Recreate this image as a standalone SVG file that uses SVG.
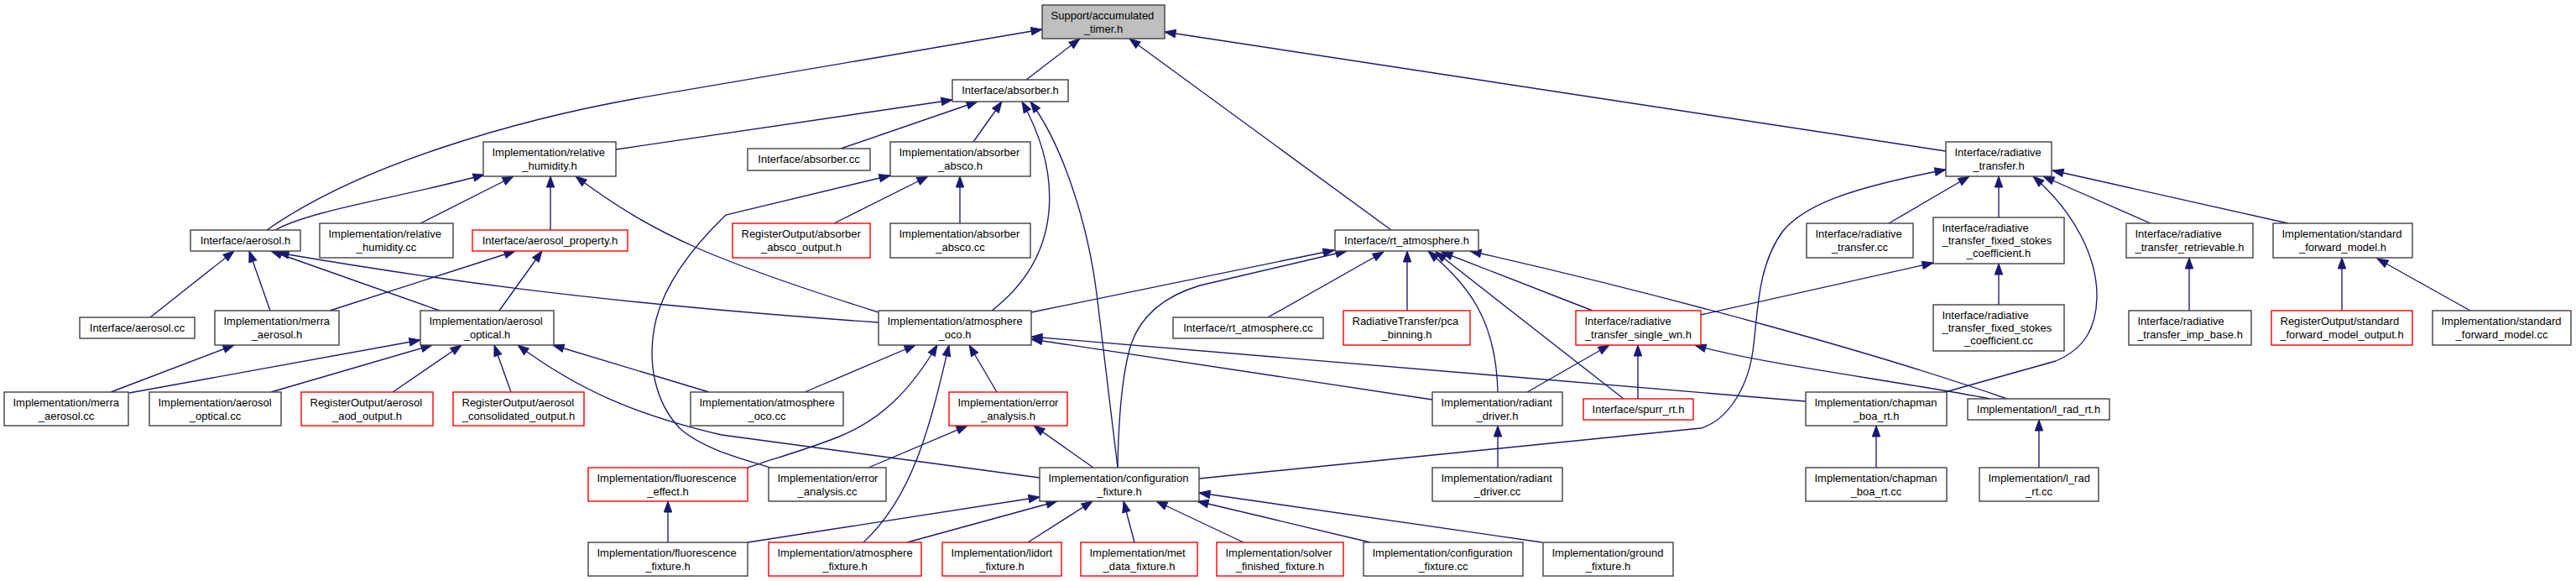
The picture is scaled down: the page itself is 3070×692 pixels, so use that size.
<svg xmlns="http://www.w3.org/2000/svg" width="3070" height="692" viewBox="0 0 3070 692">
<style>
.n rect{fill:#fff;stroke:#404040;stroke-width:1.4}
.n.r rect{stroke:#ff0000}
.n.root rect{fill:#bfbfbf}
text{font-family:"Liberation Sans",Arial,Helvetica,sans-serif;font-size:13px;fill:#000}
.m{text-anchor:middle}
#edges path{fill:none;stroke:#191970;stroke-width:1.35;marker-start:url(#ah)}
</style>
<defs>
<marker id="ah" markerUnits="userSpaceOnUse" orient="auto-start-reverse" markerWidth="14" markerHeight="10" refX="0" refY="0" overflow="visible">
<path d="M0,0 L-13,-4.7 L-13,4.7 Z" fill="#191970" stroke="#191970" stroke-width="1"/>
</marker>
</defs>
<rect x="0" y="0" width="3070" height="692" fill="#fff"/>
<g id="edges">
<path d="M1242,35 L760,117 C620,142 430,195 318,274"/>
<path d="M1287,46 L1223,95"/>
<path d="M1346,46 L1658,274"/>
<path d="M1388,38 L2319,180"/>
<path d="M1135,119 L734,178"/>
<path d="M1165,121 L1002,177"/>
<path d="M1194,121 L1160,169"/>
<path d="M1218,121 C1262,200 1272,300 1182,370"/>
<path d="M1228,121 C1268,175 1297,270 1307,350 L1332,557"/>
<path d="M577,208 C480,235 370,250 328,274"/>
<path d="M612,210 L501,266"/>
<path d="M656,210 L656,274"/>
<path d="M686,210 C780,280 850,310 1047,372"/>
<path d="M1106,210 L994,266"/>
<path d="M1144,210 L1144,266"/>
<path d="M1061,209 L865,256 C835,285 795,330 782,380 C770,430 780,480 812,512 C840,535 880,545 918,557"/>
<path d="M279,299 L179,378"/>
<path d="M297,299 L322,370"/>
<path d="M323,299 L524,370"/>
<path d="M331,301 C500,330 700,360 1047,384"/>
<path d="M614,299 L393,370"/>
<path d="M646,299 L595,370"/>
<path d="M279,411 L132,467"/>
<path d="M501,405 L154,468"/>
<path d="M515,411 L323,467"/>
<path d="M550,411 L468,467"/>
<path d="M589,411 L609,467"/>
<path d="M659,411 L845,467"/>
<path d="M617,411 C690,465 760,495 860,518 L1239,569"/>
<path d="M1590,298 L1229,372"/>
<path d="M1605,299 L1430,340 C1390,352 1360,375 1348,410 C1337,445 1333,500 1332,557"/>
<path d="M1649,300 L1511,378"/>
<path d="M1677,299 L1677,370"/>
<path d="M1702,299 C1750,340 1783,380 1785,467"/>
<path d="M1711,300 L1935,475"/>
<path d="M1718,300 L1898,370"/>
<path d="M1752,299 C2000,355 2250,425 2392,475"/>
<path d="M1091,411 L959,467"/>
<path d="M1117,411 C1085,465 1050,500 1000,520 C955,538 915,548 891,557"/>
<path d="M1131,411 C1110,500 1090,590 1029,646"/>
<path d="M1155,411 L1188,467"/>
<path d="M1229,404 L1707,476"/>
<path d="M1229,401 L2152,478"/>
<path d="M1153,507 L1035,557"/>
<path d="M1232,507 L1303,557"/>
<path d="M1239,592 L891,646"/>
<path d="M1260,597 L1081,646"/>
<path d="M1302,597 L1225,646"/>
<path d="M1339,597 L1352,646"/>
<path d="M1378,597 L1482,646"/>
<path d="M1427,597 L1633,646"/>
<path d="M1429,587 L1838,646"/>
<path d="M2319,202 C2200,225 2150,245 2125,275 C2095,315 2095,370 2090,410 C2085,460 2060,500 2027,510 L1429,570"/>
<path d="M796,597 L796,646"/>
<path d="M1918,411 L1820,467"/>
<path d="M1952,411 L1952,475"/>
<path d="M2020,411 C2090,432 2250,452 2372,475"/>
<path d="M2304,313 L2027,375"/>
<path d="M2347,210 L2251,266"/>
<path d="M2382,210 L2382,259"/>
<path d="M2423,210 C2475,255 2500,310 2499,355 C2498,390 2485,415 2450,430 L2318,467"/>
<path d="M2435,210 L2563,266"/>
<path d="M2446,203 L2727,266"/>
<path d="M2382,314 L2382,363"/>
<path d="M2609,307 L2609,370"/>
<path d="M2791,307 L2791,370"/>
<path d="M2833,308 L2944,370"/>
<path d="M1785,507 L1785,557"/>
<path d="M2236,507 L2236,557"/>
<path d="M2430,500 L2430,557"/>
</g>
<g id="n_timer" class="n root"><rect x="1242" y="6" width="146" height="40"/><text x="1252.5" y="23">Support/accumulated</text><text class="m" x="1315" y="38.5">_timer.h</text></g>
<g id="n_absorber_h" class="n"><rect x="1135" y="95" width="138" height="26"/><text class="m" x="1204" y="112">Interface/absorber.h</text></g>
<g id="n_rel_hum_h" class="n"><rect x="576" y="169" width="158" height="41"/><text x="586.5" y="186">Implementation/relative</text><text class="m" x="655" y="201.5">_humidity.h</text></g>
<g id="n_absorber_cc" class="n"><rect x="891" y="177" width="146" height="26"/><text class="m" x="964" y="194">Interface/absorber.cc</text></g>
<g id="n_absco_h" class="n"><rect x="1061" y="169" width="167" height="41"/><text x="1071.5" y="186">Implementation/absorber</text><text class="m" x="1144.5" y="201.5">_absco.h</text></g>
<g id="n_rad_transfer_h" class="n"><rect x="2319" y="169" width="126" height="41"/><text x="2329.5" y="186">Interface/radiative</text><text class="m" x="2382" y="201.5">_transfer.h</text></g>
<g id="n_aerosol_h" class="n"><rect x="227" y="274" width="131" height="25"/><text class="m" x="292.5" y="291">Interface/aerosol.h</text></g>
<g id="n_rel_hum_cc" class="n"><rect x="381" y="266" width="159" height="41"/><text x="391.5" y="283">Implementation/relative</text><text class="m" x="460.5" y="298.5">_humidity.cc</text></g>
<g id="n_aerosol_property_h" class="n r"><rect x="563" y="274" width="185" height="25"/><text class="m" x="655.5" y="291">Interface/aerosol_property.h</text></g>
<g id="n_absco_output_h" class="n r"><rect x="873" y="266" width="164" height="41"/><text x="883.5" y="283">RegisterOutput/absorber</text><text class="m" x="955" y="298.5">_absco_output.h</text></g>
<g id="n_absco_cc" class="n"><rect x="1061" y="266" width="167" height="41"/><text x="1071.5" y="283">Implementation/absorber</text><text class="m" x="1144.5" y="298.5">_absco.cc</text></g>
<g id="n_rt_atm_h" class="n"><rect x="1591" y="274" width="171" height="25"/><text class="m" x="1676.5" y="291">Interface/rt_atmosphere.h</text></g>
<g id="n_rad_transfer_cc" class="n"><rect x="2153" y="266" width="127" height="41"/><text x="2163.5" y="283">Interface/radiative</text><text class="m" x="2216.5" y="298.5">_transfer.cc</text></g>
<g id="n_fixed_stokes_h" class="n"><rect x="2304" y="259" width="156" height="55"/><text x="2314.5" y="275.5">Interface/radiative</text><text x="2314.5" y="290.5">_transfer_fixed_stokes</text><text class="m" x="2382" y="305.5">_coefficient.h</text></g>
<g id="n_retrievable_h" class="n"><rect x="2534" y="266" width="151" height="41"/><text x="2544.5" y="283">Interface/radiative</text><text class="m" x="2609.5" y="298.5">_transfer_retrievable.h</text></g>
<g id="n_sfm_h" class="n"><rect x="2709" y="266" width="166" height="41"/><text x="2719.5" y="283">Implementation/standard</text><text class="m" x="2792" y="298.5">_forward_model.h</text></g>
<g id="n_aerosol_cc" class="n"><rect x="95" y="378" width="137" height="25"/><text class="m" x="163.5" y="395">Interface/aerosol.cc</text></g>
<g id="n_merra_h" class="n"><rect x="256" y="370" width="148" height="41"/><text x="266.5" y="387">Implementation/merra</text><text class="m" x="330" y="402.5">_aerosol.h</text></g>
<g id="n_optical_h" class="n"><rect x="501" y="370" width="159" height="41"/><text x="511.5" y="387">Implementation/aerosol</text><text class="m" x="580.5" y="402.5">_optical.h</text></g>
<g id="n_oco_h" class="n"><rect x="1047" y="370" width="182" height="41"/><text x="1057.5" y="387">Implementation/atmosphere</text><text class="m" x="1138" y="402.5">_oco.h</text></g>
<g id="n_rt_atm_cc" class="n"><rect x="1398" y="378" width="179" height="25"/><text class="m" x="1487.5" y="395">Interface/rt_atmosphere.cc</text></g>
<g id="n_pca_h" class="n r"><rect x="1601" y="370" width="151" height="41"/><text x="1611.5" y="387">RadiativeTransfer/pca</text><text class="m" x="1676.5" y="402.5">_binning.h</text></g>
<g id="n_single_wn_h" class="n r"><rect x="1878" y="370" width="149" height="41"/><text x="1888.5" y="387">Interface/radiative</text><text class="m" x="1952.5" y="402.5">_transfer_single_wn.h</text></g>
<g id="n_fixed_stokes_cc" class="n"><rect x="2304" y="363" width="156" height="55"/><text x="2314.5" y="379.5">Interface/radiative</text><text x="2314.5" y="394.5">_transfer_fixed_stokes</text><text class="m" x="2382" y="409.5">_coefficient.cc</text></g>
<g id="n_imp_base_h" class="n"><rect x="2537" y="370" width="146" height="41"/><text x="2547.5" y="387">Interface/radiative</text><text class="m" x="2610" y="402.5">_transfer_imp_base.h</text></g>
<g id="n_sfm_output_h" class="n r"><rect x="2707" y="370" width="168" height="41"/><text x="2717.5" y="387">RegisterOutput/standard</text><text class="m" x="2791" y="402.5">_forward_model_output.h</text></g>
<g id="n_sfm_cc" class="n"><rect x="2899" y="370" width="165" height="41"/><text x="2909.5" y="387">Implementation/standard</text><text class="m" x="2981.5" y="402.5">_forward_model.cc</text></g>
<g id="n_merra_cc" class="n"><rect x="5" y="467" width="148" height="40"/><text x="15.5" y="484">Implementation/merra</text><text class="m" x="79" y="499.5">_aerosol.cc</text></g>
<g id="n_optical_cc" class="n"><rect x="178" y="467" width="157" height="40"/><text x="188.5" y="484">Implementation/aerosol</text><text class="m" x="256.5" y="499.5">_optical.cc</text></g>
<g id="n_aod_output_h" class="n r"><rect x="359" y="467" width="157" height="40"/><text x="369.5" y="484">RegisterOutput/aerosol</text><text class="m" x="437.5" y="499.5">_aod_output.h</text></g>
<g id="n_consolidated_output_h" class="n r"><rect x="540" y="467" width="156" height="40"/><text x="550.5" y="484">RegisterOutput/aerosol</text><text class="m" x="618" y="499.5">_consolidated_output.h</text></g>
<g id="n_oco_cc" class="n"><rect x="823" y="467" width="182" height="40"/><text x="833.5" y="484">Implementation/atmosphere</text><text class="m" x="914" y="499.5">_oco.cc</text></g>
<g id="n_error_analysis_h" class="n r"><rect x="1131" y="467" width="141" height="40"/><text x="1141.5" y="484">Implementation/error</text><text class="m" x="1201.5" y="499.5">_analysis.h</text></g>
<g id="n_radiant_driver_h" class="n"><rect x="1707" y="467" width="155" height="40"/><text x="1717.5" y="484">Implementation/radiant</text><text class="m" x="1784.5" y="499.5">_driver.h</text></g>
<g id="n_spurr_rt_h" class="n r"><rect x="1887" y="475" width="131" height="25"/><text class="m" x="1952.5" y="492">Interface/spurr_rt.h</text></g>
<g id="n_chapman_h" class="n"><rect x="2152" y="467" width="168" height="40"/><text x="2162.5" y="484">Implementation/chapman</text><text class="m" x="2236" y="499.5">_boa_rt.h</text></g>
<g id="n_l_rad_rt_h" class="n"><rect x="2345" y="475" width="169" height="25"/><text class="m" x="2429.5" y="492">Implementation/l_rad_rt.h</text></g>
<g id="n_fluorescence_effect_h" class="n r"><rect x="701" y="557" width="190" height="40"/><text x="711.5" y="574">Implementation/fluorescence</text><text class="m" x="796" y="589.5">_effect.h</text></g>
<g id="n_error_analysis_cc" class="n"><rect x="916" y="557" width="140" height="40"/><text x="926.5" y="574">Implementation/error</text><text class="m" x="986" y="589.5">_analysis.cc</text></g>
<g id="n_config_fixture_h" class="n"><rect x="1239" y="557" width="190" height="40"/><text x="1249.5" y="574">Implementation/configuration</text><text class="m" x="1334" y="589.5">_fixture.h</text></g>
<g id="n_radiant_driver_cc" class="n"><rect x="1707" y="557" width="155" height="40"/><text x="1717.5" y="574">Implementation/radiant</text><text class="m" x="1784.5" y="589.5">_driver.cc</text></g>
<g id="n_chapman_cc" class="n"><rect x="2152" y="557" width="168" height="40"/><text x="2162.5" y="574">Implementation/chapman</text><text class="m" x="2236" y="589.5">_boa_rt.cc</text></g>
<g id="n_l_rad_rt_cc" class="n"><rect x="2359" y="557" width="142" height="40"/><text x="2369.5" y="574">Implementation/l_rad</text><text class="m" x="2430" y="589.5">_rt.cc</text></g>
<g id="n_fluorescence_fixture_h" class="n"><rect x="701" y="646" width="190" height="40"/><text x="711.5" y="663">Implementation/fluorescence</text><text class="m" x="796" y="678.5">_fixture.h</text></g>
<g id="n_atmosphere_fixture_h" class="n r"><rect x="916" y="646" width="182" height="40"/><text x="926.5" y="663">Implementation/atmosphere</text><text class="m" x="1007" y="678.5">_fixture.h</text></g>
<g id="n_lidort_fixture_h" class="n r"><rect x="1123" y="646" width="142" height="40"/><text x="1133.5" y="663">Implementation/lidort</text><text class="m" x="1194" y="678.5">_fixture.h</text></g>
<g id="n_met_data_fixture_h" class="n r"><rect x="1288" y="646" width="139" height="40"/><text x="1298.5" y="663">Implementation/met</text><text class="m" x="1357.5" y="678.5">_data_fixture.h</text></g>
<g id="n_solver_finished_fixture_h" class="n r"><rect x="1450" y="646" width="151" height="40"/><text x="1460.5" y="663">Implementation/solver</text><text class="m" x="1525.5" y="678.5">_finished_fixture.h</text></g>
<g id="n_config_fixture_cc" class="n"><rect x="1625" y="646" width="190" height="40"/><text x="1635.5" y="663">Implementation/configuration</text><text class="m" x="1720" y="678.5">_fixture.cc</text></g>
<g id="n_ground_fixture_h" class="n"><rect x="1839" y="646" width="155" height="40"/><text x="1849.5" y="663">Implementation/ground</text><text class="m" x="1916.5" y="678.5">_fixture.h</text></g>
</svg>
